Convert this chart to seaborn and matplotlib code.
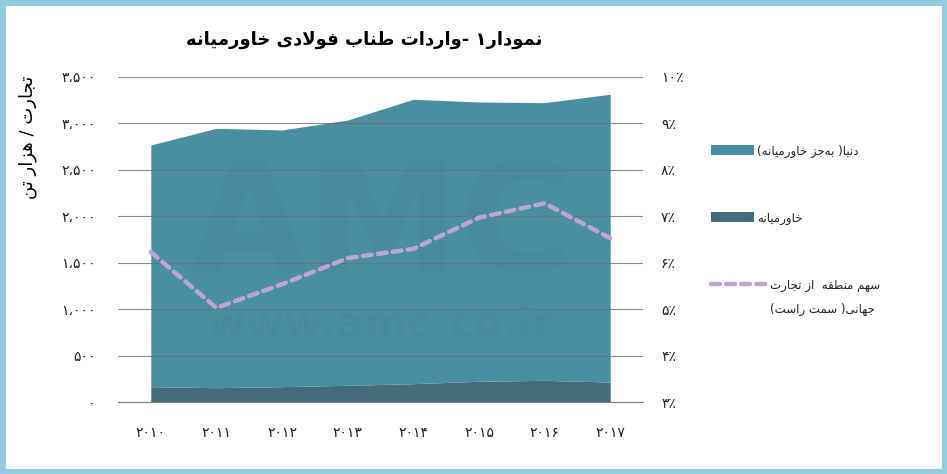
#!/usr/bin/env python3
"""
Steel rope imports of the Middle East, 2010-2017.

Stacked area (Middle East + rest of world, thousand tonnes, left axis)
with the region's share of world trade as a dashed line (right axis).

Output:
    out.png
"""

import matplotlib
matplotlib.use("Agg")
import matplotlib.pyplot as plt
from matplotlib.lines import Line2D
from matplotlib.patches import Patch, Rectangle
import numpy as np
import pandas as pd
import seaborn as sns

YEARS = ["2010", "2011", "2012", "2013", "2014", "2015", "2016", "2017"]
# thousand tonnes
MIDDLE_EAST = [168, 157, 168, 183, 200, 226, 236, 218]
WORLD_EX_ME = [2599, 2789, 2760, 2852, 3058, 3003, 2986, 3094]
# share of world trade, percent (right axis)
SHARE_PCT = [6.23, 5.03, 5.54, 6.10, 6.30, 6.97, 7.28, 6.53]

LEFT_TICKS = [0, 500, 1000, 1500, 2000, 2500, 3000, 3500]
RIGHT_TICKS = [3, 4, 5, 6, 7, 8, 9, 10]

TITLE = "نمودار۱ -واردات طناب فولادی خاورمیانه"
Y_LABEL = "تجارت / هزار تن"
LABEL_WORLD = "دنیا( به\u200cجز خاورمیانه)"
LABEL_ME = "خاورمیانه"
LABEL_SHARE_1 = "سهم منطقه  از تجارت"
LABEL_SHARE_2 = "جهانی( سمت راست)"

COLOR_WORLD = "#4a8ea2"
COLOR_ME = "#446c7b"
COLOR_SHARE = "#b9a4d2"
COLOR_GRID = "#6f6f6f"
COLOR_FRAME = "#93cddd"

FA_DIGITS = str.maketrans("0123456789", "۰۱۲۳۴۵۶۷۸۹")

# isolated, final, initial, medial (right-joining letters only have two)
ARABIC_FORMS = {
    "\u0627": ("\uFE8D", "\uFE8E"),
    "\u0622": ("\uFE81", "\uFE82"),
    "\u0628": ("\uFE8F", "\uFE90", "\uFE91", "\uFE92"),
    "\u067E": ("\uFB56", "\uFB57", "\uFB58", "\uFB59"),
    "\u062A": ("\uFE95", "\uFE96", "\uFE97", "\uFE98"),
    "\u062B": ("\uFE99", "\uFE9A", "\uFE9B", "\uFE9C"),
    "\u062C": ("\uFE9D", "\uFE9E", "\uFE9F", "\uFEA0"),
    "\u0686": ("\uFB7A", "\uFB7B", "\uFB7C", "\uFB7D"),
    "\u062D": ("\uFEA1", "\uFEA2", "\uFEA3", "\uFEA4"),
    "\u062E": ("\uFEA5", "\uFEA6", "\uFEA7", "\uFEA8"),
    "\u062F": ("\uFEA9", "\uFEAA"),
    "\u0630": ("\uFEAB", "\uFEAC"),
    "\u0631": ("\uFEAD", "\uFEAE"),
    "\u0632": ("\uFEAF", "\uFEB0"),
    "\u0698": ("\uFB8A", "\uFB8B"),
    "\u0633": ("\uFEB1", "\uFEB2", "\uFEB3", "\uFEB4"),
    "\u0634": ("\uFEB5", "\uFEB6", "\uFEB7", "\uFEB8"),
    "\u0635": ("\uFEB9", "\uFEBA", "\uFEBB", "\uFEBC"),
    "\u0636": ("\uFEBD", "\uFEBE", "\uFEBF", "\uFEC0"),
    "\u0637": ("\uFEC1", "\uFEC2", "\uFEC3", "\uFEC4"),
    "\u0638": ("\uFEC5", "\uFEC6", "\uFEC7", "\uFEC8"),
    "\u0639": ("\uFEC9", "\uFECA", "\uFECB", "\uFECC"),
    "\u063A": ("\uFECD", "\uFECE", "\uFECF", "\uFED0"),
    "\u0641": ("\uFED1", "\uFED2", "\uFED3", "\uFED4"),
    "\u0642": ("\uFED5", "\uFED6", "\uFED7", "\uFED8"),
    "\u06A9": ("\uFB8E", "\uFB8F", "\uFB90", "\uFB91"),
    "\u06AF": ("\uFB92", "\uFB93", "\uFB94", "\uFB95"),
    "\u0644": ("\uFEDD", "\uFEDE", "\uFEDF", "\uFEE0"),
    "\u0645": ("\uFEE1", "\uFEE2", "\uFEE3", "\uFEE4"),
    "\u0646": ("\uFEE5", "\uFEE6", "\uFEE7", "\uFEE8"),
    "\u0647": ("\uFEE9", "\uFEEA", "\uFEEB", "\uFEEC"),
    "\u0648": ("\uFEED", "\uFEEE"),
    "\u06CC": ("\uFBFC", "\uFBFD", "\uFBFE", "\uFBFF"),
}
LAM_ALEF = ("\uFEFB", "\uFEFC")


def joins_next(ch):
    return ch in ARABIC_FORMS and len(ARABIC_FORMS[ch]) == 4


def shape_line(line):
    # matplotlib has no shaping/bidi: pick presentation forms, then reverse
    chars = list(line)
    n = len(chars)
    out = []
    i = 0
    while i < n:
        ch = chars[i]
        if ch not in ARABIC_FORMS:
            if ch != "\u200c":
                out.append(ch)
            i += 1
            continue
        link_prev = i > 0 and joins_next(chars[i - 1])
        if ch == "\u0644" and i + 1 < n and chars[i + 1] == "\u0627":
            out.append(LAM_ALEF[1] if link_prev else LAM_ALEF[0])
            i += 2
            continue
        link_next = joins_next(ch) and i + 1 < n and chars[i + 1] in ARABIC_FORMS
        forms = ARABIC_FORMS[ch]
        if link_prev and link_next:
            out.append(forms[3])
        elif link_prev:
            out.append(forms[1])
        elif link_next:
            out.append(forms[2])
        else:
            out.append(forms[0])
        i += 1
    visual = "".join(reversed(out))
    return visual.translate(str.maketrans("()", ")("))


def fa(text):
    return "\n".join(shape_line(s) for s in text.split("\n"))


def fa_number(v):
    return f"{v:,}".replace(",", "،").translate(FA_DIGITS)


def draw_chart():
    df = pd.DataFrame({
        "pos": np.arange(len(YEARS)),
        "year": YEARS,
        "me": MIDDLE_EAST,
        "world": WORLD_EX_ME,
        "share": SHARE_PCT,
    })

    fig = plt.figure(figsize=(9.47, 4.74), dpi=100)
    ax = fig.add_axes([0.1246, 0.1513, 0.5544, 0.6867])

    ax.stackplot(df["pos"], df["me"], df["world"],
                 colors=[COLOR_ME, COLOR_WORLD], linewidth=0, zorder=1)

    # faint watermark
    ax.text(0.5, 0.53, "AMC", transform=ax.transAxes, ha="center", va="center",
            fontsize=110, fontweight="bold", color="#3b7689", alpha=0.09, zorder=1.2)
    ax.text(0.5, 0.24, "www.amc-co.ir", transform=ax.transAxes, ha="center", va="center",
            fontsize=30, fontweight="bold", color="#3b7689", alpha=0.09, zorder=1.2)

    ax.set_xlim(-0.5, len(YEARS) - 0.5)
    ax.set_ylim(0, 3500)
    ax.set_yticks(LEFT_TICKS)
    ax.set_yticklabels([fa_number(v) for v in LEFT_TICKS])
    ax.set_xticks(df["pos"])
    ax.set_xticklabels([y.translate(FA_DIGITS) for y in YEARS])
    ax.set_xticks(np.arange(-0.5, len(YEARS)), minor=True)
    ax.tick_params(axis="x", which="major", length=0, pad=17, labelsize=10, colors="#222222")
    ax.tick_params(axis="x", which="minor", length=7, width=0.8, color="#7f7f7f")
    ax.tick_params(axis="y", length=0, pad=16, labelsize=10, colors="#222222")

    ax.set_axisbelow(False)
    ax.yaxis.grid(True, color=COLOR_GRID, linewidth=0.8, alpha=0.8, zorder=2.5)
    ax.xaxis.grid(False)
    for side in ["top", "left", "right"]:
        ax.spines[side].set_visible(False)
    ax.spines["bottom"].set_color("#7f7f7f")
    ax.spines["bottom"].set_linewidth(0.8)
    ax.set_xlabel("")
    ax.set_ylabel("")

    ax2 = ax.twinx()
    sns.lineplot(data=df, x="pos", y="share", ax=ax2, color=COLOR_SHARE,
                 linewidth=3.2, linestyle=(0, (2.0, 1.4)), dash_capstyle="round")
    ax2.set_ylim(3, 10)
    ax2.set_yticks(RIGHT_TICKS)
    ax2.set_yticklabels([f"{v}٪".translate(FA_DIGITS) for v in RIGHT_TICKS])
    ax2.tick_params(axis="y", length=0, pad=13, labelsize=10, colors="#222222")
    ax2.grid(False)
    for side in ax2.spines:
        ax2.spines[side].set_visible(False)
    ax2.set_xlabel("")
    ax2.set_ylabel("")

    fig.text(364 / 947, 1 - 40 / 474, fa(TITLE), ha="center", va="center",
             fontsize=13, fontweight="bold", color="black")
    fig.text(28 / 947, 1 - 137 / 474, fa(Y_LABEL), ha="center", va="center",
             rotation=90, fontsize=13, color="black")
    return fig


def add_legend(fig):
    common = dict(loc="center left", frameon=False, borderpad=0, borderaxespad=0,
                  fontsize=8.5, labelcolor="#222222")
    x0 = 711 / 947
    fig.legend(handles=[Patch(facecolor=COLOR_WORLD, edgecolor="none")],
               labels=[fa(LABEL_WORLD)], bbox_to_anchor=(x0, 1 - 151 / 474),
               handlelength=3.6, handleheight=0.95, handletextpad=0.3, **common)
    fig.legend(handles=[Patch(facecolor=COLOR_ME, edgecolor="none")],
               labels=[fa(LABEL_ME)], bbox_to_anchor=(x0, 1 - 218 / 474),
               handlelength=3.6, handleheight=0.95, handletextpad=0.3, **common)
    dash = Line2D([], [], color=COLOR_SHARE, linewidth=3.2,
                  linestyle=(0, (2.0, 1.4)), dash_capstyle="round")
    fig.legend(handles=[dash], labels=[fa(LABEL_SHARE_1)],
               bbox_to_anchor=(x0, 1 - 285 / 474),
               handlelength=4.8, handletextpad=0.2, **common)
    blank = Line2D([], [], color="none")
    fig.legend(handles=[blank], labels=[fa(LABEL_SHARE_2)],
               bbox_to_anchor=(x0, 1 - 309 / 474),
               handlelength=4.8, handletextpad=0.2, **common)


def add_frame(fig):
    fig.patches.append(Rectangle((0, 0), 1, 1, transform=fig.transFigure,
                                 fill=False, edgecolor=COLOR_FRAME, linewidth=8))


def main():
    sns.set_theme(style="white")
    plt.rcParams["font.family"] = ["DejaVu Sans"]
    fig = draw_chart()
    add_legend(fig)
    add_frame(fig)
    fig.savefig("out.png", dpi=100, facecolor="white")
    plt.close(fig)


if __name__ == "__main__":
    main()
